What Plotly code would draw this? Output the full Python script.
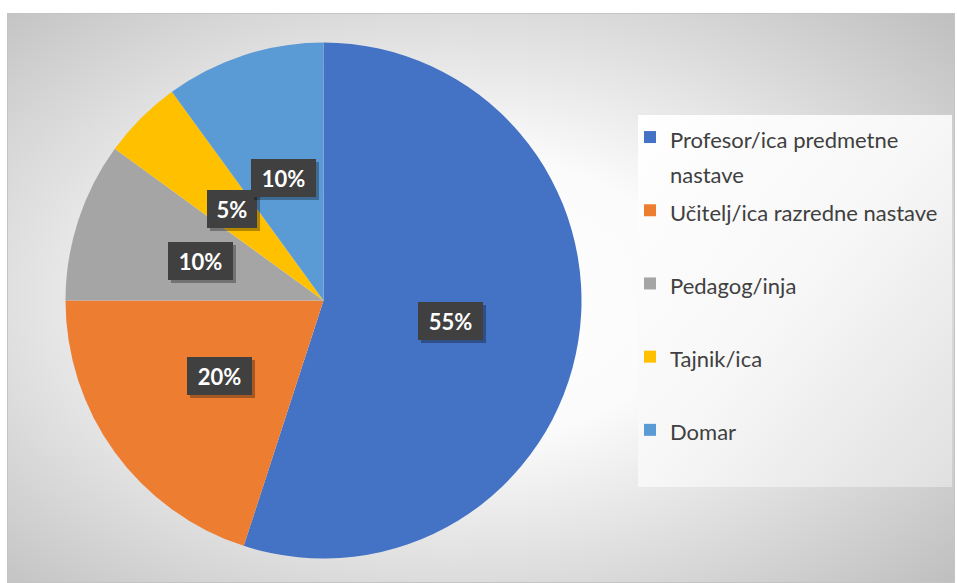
import base64
import numpy as np
import plotly.graph_objects as go

# ---- data ----
categories = ["Profesor/ica predmetne nastave", "Učitelj/ica razredne nastave",
              "Pedagog/inja", "Tajnik/ica", "Domar"]
legend_lines = [["Profesor/ica predmetne", "nastave"], ["Učitelj/ica razredne nastave"],
                ["Pedagog/inja"], ["Tajnik/ica"], ["Domar"]]
values = [55, 20, 10, 5, 10]
colors = ["#4472C4", "#ED7D31", "#A5A5A5", "#FFC000", "#5B9BD5"]

W, H = 957, 583
FONT = "Lato"
LEG_TEXT_SIZE = 22


def legend_label(lines):
    # every entry occupies two lines so the entries are evenly spaced
    lines = list(lines) + ["\u00a0"] * (2 - len(lines))
    return "<br>".join(f"<span style='font-size:{LEG_TEXT_SIZE}px'>{t}</span>" for t in lines)


legend_labels = [legend_label(l) for l in legend_lines]

# ---- background (chart area with radial gradient + legend panel) ----
svg = """<svg xmlns='http://www.w3.org/2000/svg' width='948' height='570' viewBox='0 0 948 570' preserveAspectRatio='none'>
<defs>
<radialGradient id='bg' cx='0.47' cy='0.5' r='0.72'>
<stop offset='0' stop-color='#ffffff'/>
<stop offset='0.35' stop-color='#fbfbfb'/>
<stop offset='1' stop-color='#c0c0c0'/>
</radialGradient>
<linearGradient id='lg' x1='0' y1='0' x2='1' y2='1'>
<stop offset='0' stop-color='#ffffff'/>
<stop offset='0.5' stop-color='#f7f7f7'/>
<stop offset='1' stop-color='#e0e0e0'/>
</linearGradient>
</defs>
<rect x='0.5' y='0.5' width='947' height='569' fill='url(#bg)' stroke='#c4c4c4' stroke-width='1'/>
<rect x='631' y='102' width='314' height='372' fill='url(#lg)'/>
</svg>"""
src = "data:image/svg+xml;base64," + base64.b64encode(svg.encode()).decode()

# ---- pie geometry (pixels) ----
cx, cy, r = 323.5, 300.5, 258.0
dom_x = [(cx - r) / W, (cx + r) / W]
dom_y = [1 - (cy + r) / H, 1 - (cy - r) / H]

fig = go.Figure()
fig.add_trace(go.Pie(
    labels=legend_labels,
    values=values,
    marker=dict(colors=colors, line=dict(width=0)),
    sort=False,
    direction="clockwise",
    rotation=0,
    textinfo="none",
    hovertext=categories,
    hoverinfo="text+percent",
    domain=dict(x=dom_x, y=dom_y),
))

# ---- data labels in dark boxes at half radius ----
vals = np.array(values, dtype=float)
frac = vals / vals.sum()
ends = np.cumsum(frac)
mids = (ends - frac / 2) * 2 * np.pi
annotations = []
for f, a in zip(frac, mids):
    px = cx + 0.5 * r * np.sin(a)
    py = cy - 0.5 * r * np.cos(a)
    label = f"{round(f * 100)}%"
    box_w = 15 * len(label) + 20
    common = dict(x=px / W, y=1 - py / H, xref="paper", yref="paper",
                  xanchor="center", yanchor="middle",
                  showarrow=False, borderpad=0, borderwidth=0,
                  width=box_w, height=38, align="center", valign="middle")
    # shadow box
    annotations.append(dict(text="\u00a0", bgcolor="rgba(0,0,0,0.3)", xshift=3, yshift=-3,
                            font=dict(family=FONT, size=22, color="rgba(0,0,0,0)"), **common))
    annotations.append(dict(text=f"<b>{label}</b>", bgcolor="#404040",
                            font=dict(family=FONT, size=22, color="#ffffff"), **common))

fig.update_layout(
    width=W, height=H,
    margin=dict(l=0, r=0, t=0, b=0),
    paper_bgcolor="#ffffff",
    plot_bgcolor="rgba(0,0,0,0)",
    images=[dict(source=src, xref="paper", yref="paper", x=7 / W, y=1 - 13 / H,
                 sizex=948 / W, sizey=570 / H, xanchor="left", yanchor="top",
                 sizing="stretch", layer="below")],
    annotations=annotations,
    showlegend=True,
    legend=dict(
        x=630 / W, y=1 - 113 / H, xanchor="left", yanchor="top",
        bgcolor="rgba(0,0,0,0)", valign="top",
        font=dict(family=FONT, size=27, color="#404040"),
        tracegroupgap=0,
    ),
)

fig.write_html("out.html")
